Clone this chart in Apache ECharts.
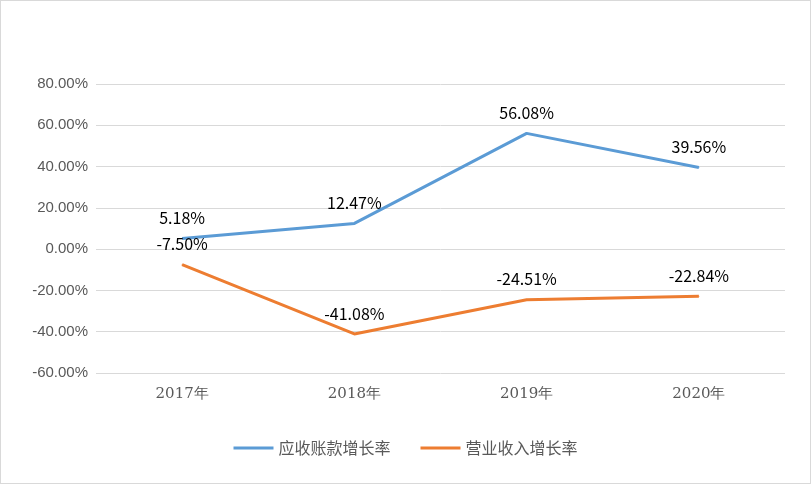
<!DOCTYPE html>
<html>
<head>
<meta charset="utf-8">
<script src="https://cdn.jsdelivr.net/npm/echarts@6/dist/echarts.min.js"></script>
<style>
html,body{margin:0;padding:0;background:#fff;}
#main{width:809px;height:482px;border:1px solid #d9d9d9;}
</style>
</head>
<body>
<div id="main"></div>
<script>
var years=['2017年','2018年','2019年','2020年'];
var receivableGrowth=[5.18,12.47,56.08,39.56];
var revenueGrowth=[-7.50,-41.08,-24.51,-22.84];

var myCharts=echarts.init(document.getElementById('main'));
function labelStyle(){
    return {
        show:true,
        position:'top',
        distance:12,
        color:'#000',
        fontSize:16,
        fontFamily:'"Noto Sans CJK SC", sans-serif',
        formatter:function(p){return p.value.toFixed(2)+'%';}
    };
}
let option={
    grid:{left:95,right:25,top:83,bottom:110},
    legend:{
        bottom:22,
        itemWidth:40,
        itemGap:30,
        icon:'rect',
        itemHeight:3,
        textStyle:{fontSize:16,color:'#595959',fontFamily:'"Noto Sans CJK SC", sans-serif'},
        data:['应收账款增长率','营业收入增长率']
    },
    xAxis:{
        type:'category',
        data:years,
        axisLine:{show:true,onZero:true,lineStyle:{color:'rgba(0,0,0,0)'}},
        axisTick:{show:false},
        axisLabel:{color:'#595959',fontSize:15,fontFamily:'"DejaVu Serif", serif',margin:14}
    },
    yAxis:{
        type:'value',
        min:-60,max:80,interval:20,
        axisLabel:{color:'#595959',fontSize:15,formatter:function(v){return v.toFixed(2)+'%';}},
        splitLine:{lineStyle:{color:'#d9d9d9'}}
    },
    series:[
        {
            name:'应收账款增长率',
            type:'line',
            data:receivableGrowth,
            symbol:'circle',
            symbolSize:1,
            lineStyle:{width:3,color:'#5B9BD5'},
            itemStyle:{color:'#5B9BD5'},
            label:labelStyle()
        },
        {
            name:'营业收入增长率',
            type:'line',
            data:revenueGrowth,
            symbol:'circle',
            symbolSize:1,
            lineStyle:{width:3,color:'#ED7D31'},
            itemStyle:{color:'#ED7D31'},
            label:labelStyle()
        }
    ]
};
myCharts.setOption(option);
</script>
</body>
</html>
